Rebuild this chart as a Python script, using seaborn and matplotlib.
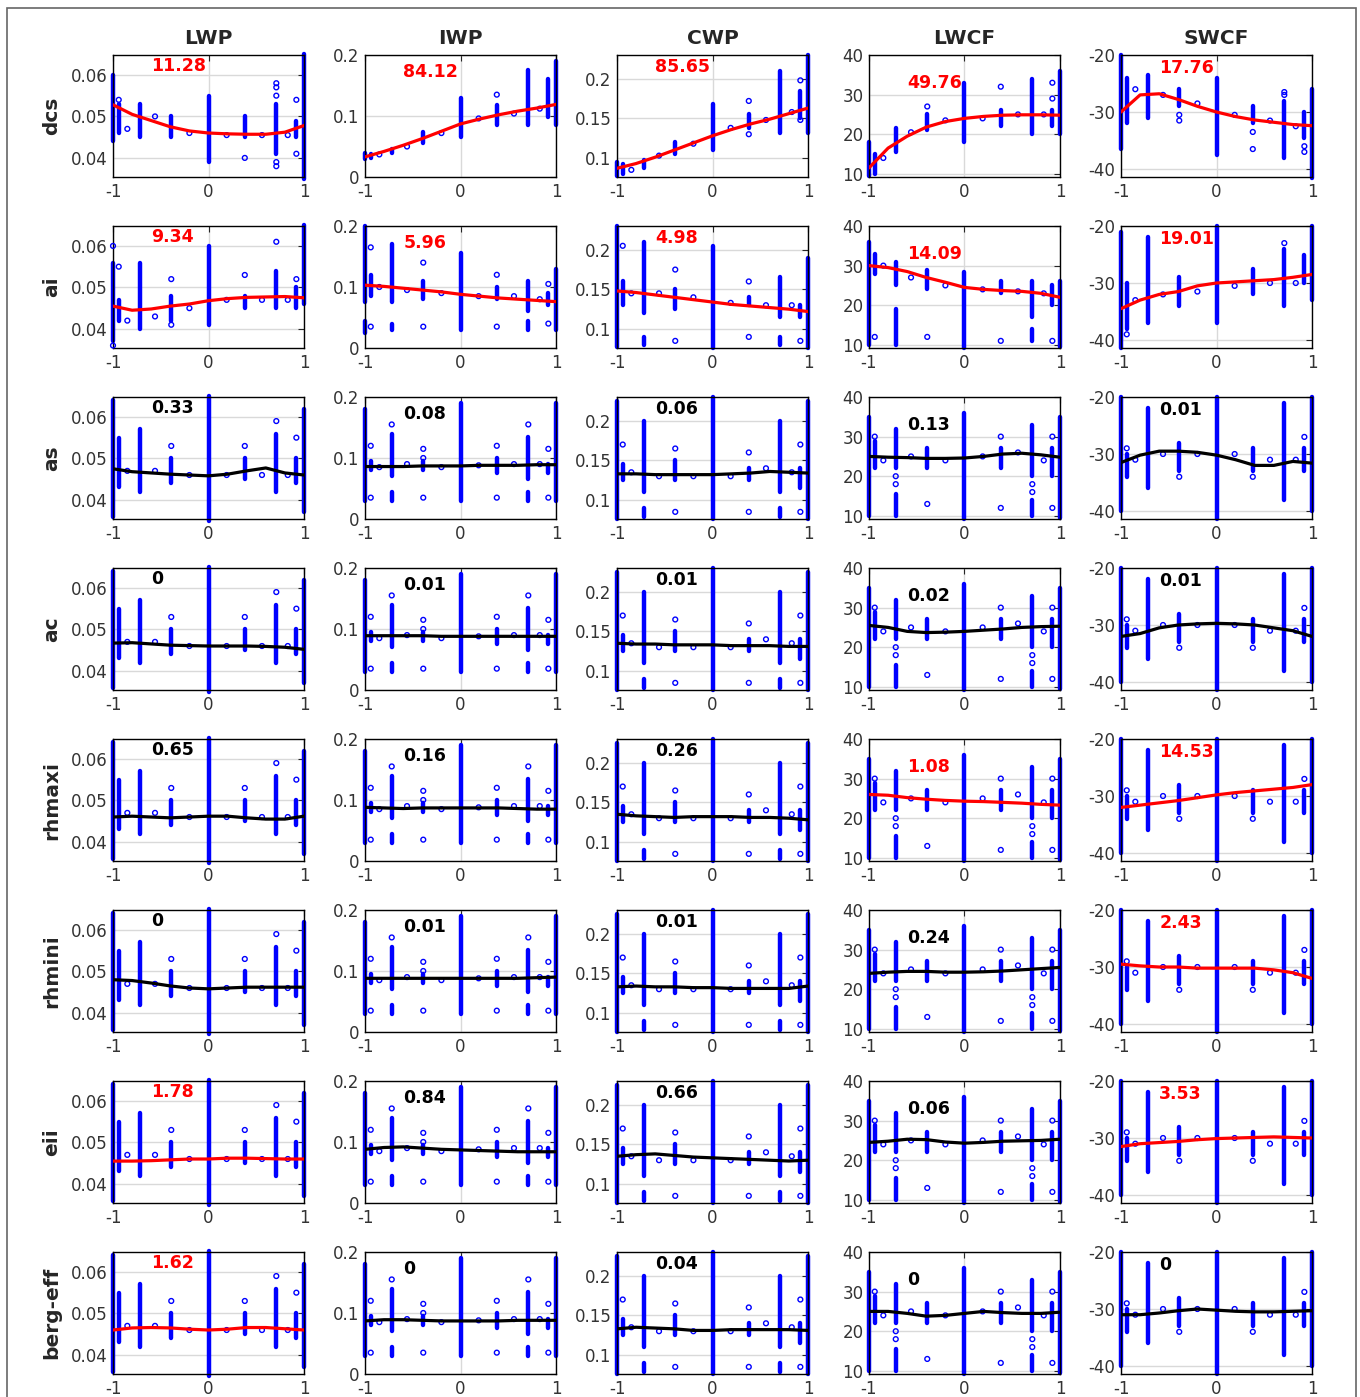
import numpy as np
import pandas as pd
import matplotlib
matplotlib.use('Agg')
import matplotlib.pyplot as plt
import seaborn as sns
from matplotlib.patches import Rectangle

sns.set_style('white')
plt.rcParams['font.family'] = ['DejaVu Sans']
plt.rcParams['axes.unicode_minus'] = False

rows = ['dcs', 'ai', 'as', 'ac', 'rhmaxi', 'rhmini', 'eii', 'berg-eff']
cols = ['LWP', 'IWP', 'CWP', 'LWCF', 'SWCF']

fit_x = [-1, -0.8, -0.6, -0.4, -0.2, 0, 0.2, 0.4, 0.6, 0.8, 1]

# scores printed in each panel (red when > 1)
lwp_score = [11.28, 9.34, 0.33, 0, 0.65, 0, 1.78, 1.62]
iwp_score = [84.12, 5.96, 0.08, 0.01, 0.16, 0.01, 0.84, 0]
cwp_score = [85.65, 4.98, 0.06, 0.01, 0.26, 0.01, 0.66, 0.04]
lwcf_score = [49.76, 14.09, 0.13, 0.02, 1.08, 0.24, 0.06, 0]
swcf_score = [17.76, 19.01, 0.01, 0.01, 14.53, 2.43, 3.53, 0]

# smooth fit curves, one list per row, values at fit_x
lwp_fit = [
    [.0528, .0505, .0490, .0475, .0465, .0460, .0458, .0457, .0457, .0462, .0478],
    [.0455, .0445, .0448, .0455, .0460, .0468, .0473, .0476, .0477, .0478, .0475],
    [.0475, .0468, .0465, .0462, .0460, .0458, .0462, .0470, .0477, .0465, .0460],
    [.0467, .0468, .0465, .0462, .0461, .0460, .0460, .0460, .0459, .0457, .0452],
    [.0460, .0462, .0460, .0458, .0460, .0462, .0462, .0458, .0455, .0455, .0462],
    [.0480, .0478, .0472, .0465, .0460, .0458, .0460, .0462, .0462, .0462, .0462],
    [.0455, .0455, .0456, .0458, .0460, .0460, .0462, .0462, .0461, .0460, .0460],
    [.0460, .0465, .0466, .0465, .0462, .0460, .0462, .0466, .0466, .0463, .0460],
]
iwp_fit = [
    [.033, .042, .052, .063, .075, .087, .095, .102, .108, .113, .119],
    [.103, .101, .098, .095, .092, .088, .085, .082, .080, .078, .076],
    [.086, .086, .086, .087, .087, .087, .088, .088, .088, .089, .089],
    [.089, .089, .089, .089, .088, .088, .088, .088, .088, .088, .088],
    [.088, .087, .086, .087, .087, .087, .087, .087, .086, .085, .085],
    [.088, .088, .088, .088, .088, .088, .088, .088, .088, .089, .090],
    [.088, .091, .092, .090, .088, .087, .086, .085, .084, .084, .084],
    [.087, .089, .089, .088, .087, .087, .087, .087, .088, .088, .088],
]
cwp_fit = [
    [.087, .093, .101, .110, .119, .128, .136, .143, .149, .156, .163],
    [.148, .146, .143, .140, .137, .134, .131, .129, .127, .125, .122],
    [.133, .133, .132, .132, .132, .132, .133, .134, .136, .135, .134],
    [.135, .134, .134, .133, .133, .133, .132, .132, .132, .131, .131],
    [.135, .133, .132, .131, .132, .132, .132, .131, .131, .130, .128],
    [.133, .134, .133, .133, .132, .132, .131, .131, .131, .131, .134],
    [.135, .137, .138, .136, .134, .133, .132, .131, .130, .129, .130],
    [.133, .135, .134, .133, .131, .131, .132, .132, .132, .132, .131],
]
lwcf_fit = [
    [11.5, 16.5, 19.5, 21.8, 23.2, 24.0, 24.5, 24.8, 24.9, 24.9, 24.8],
    [30.0, 29.5, 28.5, 27.0, 25.8, 24.5, 24.0, 23.7, 23.5, 23.0, 22.0],
    [25.0, 24.8, 24.7, 24.5, 24.5, 24.6, 25.0, 25.6, 25.8, 25.4, 24.8],
    [25.5, 25.0, 24.0, 23.7, 23.8, 24.0, 24.3, 24.6, 25.0, 25.2, 25.3],
    [26.0, 25.8, 25.2, 24.8, 24.5, 24.3, 24.2, 24.0, 23.8, 23.5, 23.3],
    [24.0, 24.3, 24.5, 24.5, 24.3, 24.3, 24.4, 24.6, 24.9, 25.2, 25.5],
    [24.5, 24.8, 25.3, 25.2, 24.6, 24.3, 24.5, 24.8, 24.9, 25.0, 25.3],
    [25.0, 25.0, 24.5, 23.8, 24.0, 24.5, 25.0, 24.7, 24.5, 24.5, 24.8],
]
swcf_fit = [
    [-30.0, -27.0, -26.8, -27.8, -29.0, -30.0, -30.8, -31.4, -31.8, -32.2, -32.4],
    [-34.5, -33.0, -32.0, -31.5, -30.5, -30.0, -29.8, -29.6, -29.4, -29.0, -28.5],
    [-31.5, -30.2, -29.5, -29.5, -29.7, -30.2, -31.0, -32.0, -32.0, -31.3, -31.6],
    [-32.0, -31.5, -30.5, -30.0, -29.8, -29.7, -29.8, -30.0, -30.5, -31.0, -32.0],
    [-32.0, -31.6, -31.2, -30.8, -30.3, -29.8, -29.4, -29.1, -28.8, -28.5, -28.0],
    [-29.5, -29.8, -30.0, -30.0, -30.2, -30.2, -30.2, -30.2, -30.5, -31.0, -32.0],
    [-31.5, -31.0, -30.8, -30.6, -30.3, -30.1, -30.0, -29.9, -29.8, -29.9, -30.0],
    [-31.0, -31.0, -30.7, -30.3, -30.0, -30.2, -30.4, -30.5, -30.5, -30.4, -30.3],
]

# dense sample columns (x, low, high) and single samples (x, y)
lwp_segs = {
    'dcs': [(-1, .044, .060), (-0.94, .046, .053), (-0.72, .045, .053), (-0.39, .045, .050), (0, .039, .055),
            (0.38, .045, .050), (0.71, .041, .053), (0.92, .045, .049), (1, .035, .065)],
    'ai': [(-1, .037, .056), (-0.94, .042, .047), (-0.72, .040, .056), (-0.39, .042, .048), (0, .041, .060),
           (0.38, .045, .048), (0.71, .045, .054), (0.92, .045, .050), (1, .046, .065)],
    'rest': [(-1, .036, .064), (-0.94, .043, .055), (-0.72, .042, .057), (-0.39, .044, .050), (0, .035, .065),
             (0.38, .045, .050), (0.71, .042, .056), (0.92, .044, .050), (1, .037, .062)],
}
lwp_pts = {
    'dcs': [(-0.94, .054), (-0.85, .047), (-0.56, .050), (-0.2, .046), (0.19, .0455), (0.38, .040), (0.56, .0455),
            (0.71, .058), (0.71, .057), (0.71, .055), (0.71, .039), (0.71, .038), (0.83, .0455), (0.92, .054), (0.92, .041)],
    'ai': [(-0.94, .055), (-0.85, .042), (-0.56, .043), (-0.39, .052), (-0.39, .041), (-0.2, .045), (0.19, .047),
           (0.38, .053), (0.56, .047), (0.71, .061), (0.83, .047), (0.92, .052), (-1, .060), (-1, .036)],
    'rest': [(-0.85, .047), (-0.56, .047), (-0.39, .053), (-0.2, .046), (0.19, .046), (0.38, .053), (0.56, .046),
             (0.83, .046), (0.92, .055), (0.71, .059)],
}
iwp_segs = {
    'dcs': [(-1, .030, .040), (-0.94, .031, .038), (-0.72, .040, .046), (-0.39, .056, .074), (0, .066, .130),
            (0.38, .086, .118), (0.71, .085, .175), (0.92, .098, .160), (1, .085, .190)],
    'ai': [(-1, .075, .200), (-1, .025, .045), (-0.94, .085, .120), (-0.72, .075, .170), (-0.72, .030, .040),
           (-0.39, .080, .110), (0, .030, .155), (0.38, .080, .100), (0.71, .060, .110), (0.71, .030, .045),
           (0.92, .070, .090), (1, .030, .130)],
    'rest': [(-1, .030, .180), (-0.94, .080, .095), (-0.72, .070, .140), (-0.72, .030, .045), (-0.39, .080, .095),
             (0, .030, .190), (0.38, .075, .100), (0.71, .065, .135), (0.71, .030, .045), (0.92, .075, .090),
             (1, .030, .190)],
}
iwp_pts = {
    'dcs': [(-0.85, .037), (-0.56, .050), (-0.2, .072), (0.19, .096), (0.38, .135), (0.56, .104), (0.83, .112)],
    'ai': [(-0.94, .165), (-0.94, .035), (-0.85, .100), (-0.56, .095), (-0.39, .140), (-0.39, .035), (-0.2, .090),
           (0.19, .085), (0.38, .120), (0.38, .035), (0.56, .085), (0.83, .080), (0.92, .105), (0.92, .040)],
    'rest': [(-0.94, .120), (-0.94, .035), (-0.85, .085), (-0.72, .155), (-0.56, .090), (-0.39, .115), (-0.39, .100),
             (-0.39, .035), (-0.2, .085), (0.19, .088), (0.38, .120), (0.38, .035), (0.56, .090), (0.71, .155),
             (0.83, .090), (0.92, .115), (0.92, .035)],
}
cwp_segs = {
    'dcs': [(-1, .077, .095), (-0.94, .080, .092), (-0.72, .087, .097), (-0.39, .105, .120), (0, .110, .168),
            (0.38, .138, .155), (0.71, .132, .210), (0.92, .150, .185), (1, .132, .230)],
    'ai': [(-1, .077, .230), (-0.94, .130, .160), (-0.72, .120, .210), (-0.72, .080, .090), (-0.39, .125, .150),
           (0, .076, .205), (0.38, .130, .140), (0.71, .115, .165), (0.71, .080, .090), (0.92, .115, .130),
           (1, .076, .190)],
    'rest': [(-1, .076, .225), (-0.94, .125, .145), (-0.72, .110, .200), (-0.72, .078, .090), (-0.39, .125, .150),
             (0, .076, .230), (0.38, .125, .140), (0.71, .110, .200), (0.71, .078, .090), (0.92, .115, .140),
             (1, .076, .225)],
}
cwp_pts = {
    'dcs': [(-0.85, .085), (-0.56, .103), (-0.2, .118), (0.19, .138), (0.38, .172), (0.38, .130), (0.56, .148),
            (0.83, .158), (0.92, .198), (0.92, .148)],
    'ai': [(-0.94, .205), (-0.85, .145), (-0.56, .145), (-0.39, .175), (-0.39, .085), (-0.2, .140), (0.19, .133),
           (0.38, .160), (0.38, .090), (0.56, .130), (0.83, .130), (0.92, .085)],
    'rest': [(-0.94, .170), (-0.85, .135), (-0.56, .130), (-0.39, .165), (-0.39, .085), (-0.2, .130), (0.19, .130),
             (0.38, .160), (0.38, .085), (0.56, .140), (0.83, .135), (0.92, .170), (0.92, .085)],
}
lwcf_segs = {
    'dcs': [(-1, 9.5, 18), (-0.94, 10, 15), (-0.72, 15.5, 21.5), (-0.39, 21, 25), (0, 18, 33), (0.38, 22, 26),
            (0.71, 20, 34), (0.92, 22, 26), (1, 20, 36)],
    'ai': [(-1, 10, 36), (-0.94, 28, 33), (-0.72, 25, 31), (-0.72, 10, 19), (-0.39, 24, 29), (0, 9.2, 28.5),
           (0.38, 23, 26), (0.71, 17, 26), (0.71, 11, 14), (0.92, 20, 25), (1, 9.5, 26)],
    'rest': [(-1, 10, 35), (-0.94, 22, 29), (-0.72, 22, 32), (-0.72, 10, 15.5), (-0.39, 22, 27), (0, 9.2, 36),
             (0.38, 22, 27), (0.71, 20, 33), (0.71, 10, 14), (0.92, 20, 27), (1, 9.5, 35)],
}
lwcf_pts = {
    'dcs': [(-0.85, 14), (-0.56, 20.5), (-0.39, 27), (-0.2, 23.5), (0.19, 24), (0.38, 32), (0.56, 25), (0.83, 25),
            (0.92, 33), (0.92, 29)],
    'ai': [(-0.94, 12), (-0.85, 30), (-0.56, 27), (-0.39, 12), (-0.2, 25), (0.19, 24), (0.38, 11), (0.56, 23.5),
           (0.83, 23), (0.92, 11)],
    'rest': [(-0.94, 30), (-0.85, 24), (-0.72, 18), (-0.72, 20), (-0.56, 25), (-0.39, 13), (-0.2, 24), (0.19, 25),
             (0.38, 30), (0.38, 12), (0.56, 26), (0.71, 16), (0.71, 18), (0.83, 24), (0.92, 30), (0.92, 12)],
}
swcf_segs = {
    'dcs': [(-1, -36.5, -20), (-0.94, -32, -24), (-0.72, -31, -23.5), (-0.39, -29, -26), (0, -37.5, -24),
            (0.38, -32, -29), (0.71, -38, -28), (0.92, -34.5, -30), (1, -41.5, -26)],
    'ai': [(-1, -41.4, -21), (-0.94, -38, -30), (-0.72, -37, -22), (-0.39, -34, -29), (0, -37, -20),
           (0.38, -32, -27.5), (0.71, -34, -24), (0.92, -30, -25), (1, -33, -20)],
    'rest': [(-1, -40, -20), (-0.94, -34, -30), (-0.72, -36, -22), (-0.39, -33, -28), (0, -41.4, -20),
             (0.38, -33, -29), (0.71, -38, -21), (0.92, -33, -29), (1, -40, -20)],
}
swcf_pts = {
    'dcs': [(-0.85, -26), (-0.56, -27), (-0.39, -30.5), (-0.39, -31.5), (-0.2, -28.5), (0.19, -30.5), (0.38, -33.5),
            (0.38, -36.5), (0.56, -31.5), (0.71, -27), (0.71, -26.5), (0.83, -32.5), (0.92, -36), (0.92, -37)],
    'ai': [(-0.94, -39), (-0.85, -33), (-0.56, -32), (-0.2, -31.5), (0.19, -30.5), (0.56, -30), (0.83, -30),
           (0.71, -23)],
    'rest': [(-0.94, -29), (-0.85, -31), (-0.56, -30), (-0.39, -34), (-0.2, -30), (0.19, -30), (0.38, -34),
             (0.56, -31), (0.83, -31), (0.92, -27)],
}

scores = [lwp_score, iwp_score, cwp_score, lwcf_score, swcf_score]
fits = [lwp_fit, iwp_fit, cwp_fit, lwcf_fit, swcf_fit]
segs = [lwp_segs, iwp_segs, cwp_segs, lwcf_segs, swcf_segs]
pts = [lwp_pts, iwp_pts, cwp_pts, lwcf_pts, swcf_pts]

ylims = [(0.0354, 0.0648), (0, 0.2), (0.076, 0.230), (9.2, 40), (-41.4, -20)]
yticks = [[0.04, 0.05, 0.06], [0, 0.1, 0.2], [0.1, 0.15, 0.2], [10, 20, 30, 40], [-40, -30, -20]]
yticklabels = [['0.04', '0.05', '0.06'], ['0', '0.1', '0.2'], ['0.1', '0.15', '0.2'],
               ['10', '20', '30', '40'], ['-40', '-30', '-20']]
score_y = [0.91, 0.86, 0.90, 0.77, 0.89]

W, H = 1360, 1397
col_left = [113, 365, 617, 869, 1121]
row_top = [55, 226, 397, 568, 739, 910, 1081, 1252]
aw, ah = 191, 122
blue = '#0000ff'

fig = plt.figure(figsize=(W / 100, H / 100), dpi=100)
fig.add_artist(Rectangle((7 / W, -0.01), (1356 - 7) / W, 1.01 - 8 / H, transform=fig.transFigure,
                         fill=False, ec='#666666', lw=1.2))

for i, r in enumerate(rows):
    key = r if r in ('dcs', 'ai') else 'rest'
    for j, c in enumerate(cols):
        ax = fig.add_axes([col_left[j] / W, 1 - (row_top[i] + ah) / H, aw / W, ah / H])
        ax.set_axisbelow(True)
        ax.grid(True, color='#d9d9d9', lw=1)

        sd = pd.DataFrame(segs[j][key], columns=['x', 'lo', 'hi'])
        ax.vlines(sd['x'], sd['lo'], sd['hi'], color=blue, lw=3.2, capstyle='round', clip_on=False, zorder=2)
        pdf = pd.DataFrame(pts[j][key], columns=['x', 'y'])
        sns.scatterplot(data=pdf, x='x', y='y', ax=ax, marker='o', s=12, color=blue, facecolor='none',
                        edgecolor=blue, linewidth=1.0, clip_on=False, zorder=3)

        v = scores[j][i]
        col_line = 'red' if v > 1 else 'black'
        fd = pd.DataFrame({'x': fit_x, 'y': fits[j][i]})
        sns.lineplot(data=fd, x='x', y='y', ax=ax, color=col_line, lw=2.3, zorder=4)
        ax.text(0.2, score_y[j], f'{v:g}', transform=ax.transAxes, ha='left', va='center',
                fontsize=12.5, fontweight='bold', color=col_line, zorder=5)

        ax.set_xlim(-1, 1)
        ax.set_ylim(*ylims[j])
        ax.set_xticks([-1, 0, 1])
        ax.set_xticklabels(['-1', '0', '1'])
        ax.set_yticks(yticks[j])
        ax.set_yticklabels(yticklabels[j])
        ax.set_xlabel('')
        ax.set_ylabel('')
        ax.tick_params(direction='in', length=4, width=0.8, labelsize=12, labelcolor='#333333',
                       top=True, right=True, pad=4)
        for s in ax.spines.values():
            s.set_color('black')
            s.set_linewidth(1)

        if i == 0:
            ax.set_title(c, fontsize=14.5, fontweight='bold', pad=8)
        if j == 0:
            fig.text(52 / W, 1 - (row_top[i] + ah / 2) / H, r, rotation=90, fontsize=14.5,
                     fontweight='bold', ha='center', va='center')

fig.savefig('out.png', dpi=100)
